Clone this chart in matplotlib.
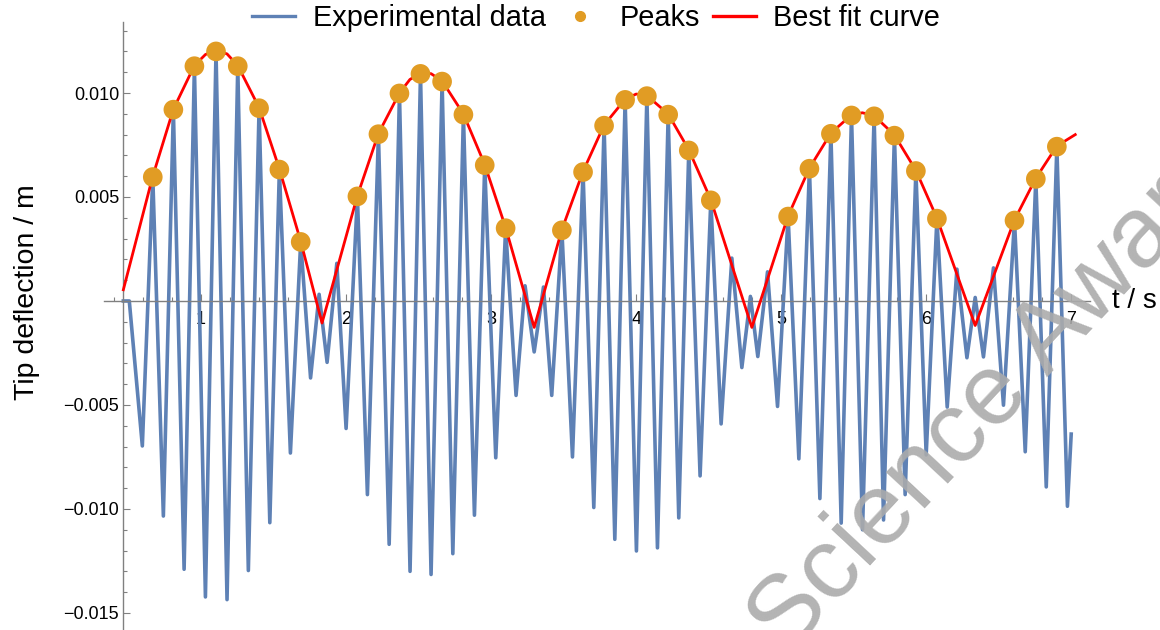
import numpy as np
import matplotlib
matplotlib.use("Agg")
import matplotlib.pyplot as plt
from matplotlib.lines import Line2D
from matplotlib.legend_handler import HandlerLine2D
from matplotlib.ticker import MultipleLocator, FixedLocator, FuncFormatter
from matplotlib import transforms

plt.rcParams['font.family'] = ['Liberation Sans', 'DejaVu Sans']

# peak positions (t in s, deflection in m)
peak_t = [0.667, 0.809, 0.954, 1.103, 1.253, 1.400, 1.540, 1.687,
          2.078, 2.223, 2.368, 2.513, 2.662, 2.809, 2.956, 3.100,
          3.488, 3.634, 3.779, 3.924, 4.074, 4.221, 4.363, 4.515,
          5.048, 5.195, 5.343, 5.485, 5.641, 5.781, 5.929, 6.074,
          6.609, 6.756, 6.901]
peak_y = [0.00596, 0.00920, 0.01129, 0.01200, 0.01129, 0.00927, 0.00632, 0.00284,
          0.00503, 0.00802, 0.00998, 0.01092, 0.01055, 0.00896, 0.00653, 0.00350,
          0.00340, 0.00620, 0.00843, 0.00967, 0.00985, 0.00896, 0.00724, 0.00484,
          0.00406, 0.00636, 0.00804, 0.00892, 0.00888, 0.00795, 0.00625, 0.00396,
          0.00387, 0.00587, 0.00742]

# remaining turning points of the tip signal (troughs and the small humps near the beat nodes)
other_t = [0.464, 0.505, 0.595, 0.740, 0.883, 1.030, 1.179, 1.326, 1.474, 1.616,
           1.755, 1.814, 1.869, 1.936, 2.000, 2.147, 2.297, 2.441, 2.586, 2.736,
           2.885, 3.032, 3.172, 3.234, 3.297, 3.361, 3.418, 3.561, 3.708, 3.853,
           4.002, 4.147, 4.294, 4.441, 4.586, 4.660, 4.729, 4.788, 4.839, 4.906,
           4.975, 5.122, 5.267, 5.414, 5.561, 5.706, 5.855, 6.000, 6.145, 6.212,
           6.281, 6.338, 6.395, 6.464, 6.533, 6.683, 6.828, 6.974, 7.000]
other_y = [0.0, 0.0, -0.00697, -0.01034, -0.01290, -0.01423, -0.01436, -0.01296, -0.01066, -0.00731,
           -0.00370, 0.00032, -0.00295, 0.00181, -0.00613, -0.00931, -0.01170, -0.01300, -0.01315, -0.01215,
           -0.01030, -0.00754, -0.00454, 0.00073, -0.00245, 0.00067, -0.00454, -0.00750, -0.00993, -0.01146,
           -0.01202, -0.01187, -0.01043, -0.00841, -0.00591, 0.00206, -0.00320, 0.00022, -0.00267, 0.00140,
           -0.00507, -0.00759, -0.00950, -0.01068, -0.01100, -0.01053, -0.00931, -0.00740, -0.00510, 0.00153,
           -0.00273, 0.00017, -0.00269, 0.00159, -0.00501, -0.00725, -0.00894, -0.00987, -0.00640]

# fitted envelope through the peaks
fit_t = [0.464, 0.667, 0.809, 0.954, 1.030, 1.103, 1.179, 1.253, 1.400, 1.540, 1.687, 1.834,
         2.078, 2.223, 2.368, 2.440, 2.513, 2.586, 2.662, 2.809, 2.956, 3.100, 3.297,
         3.488, 3.634, 3.779, 3.924, 4.000, 4.074, 4.221, 4.363, 4.515, 4.798,
         5.048, 5.195, 5.343, 5.485, 5.560, 5.641, 5.781, 5.929, 6.074, 6.338,
         6.609, 6.756, 6.901, 7.028]
fit_y = [0.00054, 0.00600, 0.00922, 0.01132, 0.01185, 0.01205, 0.01188, 0.01132, 0.00930, 0.00635, 0.00287, -0.00106,
         0.00506, 0.00805, 0.01000, 0.01065, 0.01095, 0.01093, 0.01058, 0.00899, 0.00656, 0.00353, -0.00127,
         0.00343, 0.00623, 0.00846, 0.00970, 0.00995, 0.00988, 0.00899, 0.00727, 0.00487, -0.00127,
         0.00409, 0.00639, 0.00807, 0.00895, 0.00905, 0.00891, 0.00798, 0.00628, 0.00399, -0.00118,
         0.00390, 0.00590, 0.00745, 0.00800]

BLUE = '#5E81B5'
ORANGE = '#E19C24'
RED = '#FF0000'
AXIS = '#808080'


class ShiftedDot(HandlerLine2D):
    # legend dot sits towards the right of its handle box
    def get_xdata(self, legend, xdescent, ydescent, width, height, fontsize):
        xdata, _ = super().get_xdata(legend, xdescent, ydescent, width, height, fontsize)
        return xdata, np.array([-xdescent + 0.68 * width])


# the measured signal runs through all turning points in time order
sig_t = np.array(peak_t + other_t)
sig_y = np.array(peak_y + other_y)
order = np.argsort(sig_t)
sig_t, sig_y = sig_t[order], sig_y[order]

fig = plt.figure(figsize=(11.6, 6.3), dpi=100)
ax = fig.add_axes([0.0897, 0.0, 0.850, 0.9656])
ax.set_xlim(0.331, 7.13)
ax.set_ylim(-0.01582, 0.01343)

ax.plot(sig_t, sig_y, color=BLUE, lw=2.6, solid_joinstyle='round', zorder=2)
ax.plot(fit_t, fit_y, color=RED, lw=2.0, zorder=3)
ax.scatter(peak_t, peak_y, s=200, color=ORANGE, edgecolors='none', zorder=4)

# axes drawn through the origin like a Mathematica plot
for side in ['top', 'right']:
    ax.spines[side].set_visible(False)
ax.spines['bottom'].set_position(('data', 0))
ax.spines['left'].set_position(('data', 0.464))
for side in ['bottom', 'left']:
    ax.spines[side].set_color(AXIS)
    ax.spines[side].set_linewidth(1.0)

ax.xaxis.set_major_locator(FixedLocator([1, 2, 3, 4, 5, 6, 7]))
ax.xaxis.set_minor_locator(MultipleLocator(0.2))
ax.yaxis.set_major_locator(FixedLocator([-0.015, -0.010, -0.005, 0.005, 0.010]))
ax.yaxis.set_minor_locator(MultipleLocator(0.001))
ax.xaxis.set_major_formatter(FuncFormatter(lambda v, p: f"{v:.0f}"))
ax.yaxis.set_major_formatter(FuncFormatter(lambda v, p: f"{v:.3f}".replace('-', '\u2212')))
ax.tick_params(which='both', direction='in', color=AXIS, width=0.8, labelsize=13)
ax.tick_params(which='major', length=4.8)
ax.tick_params(which='minor', length=3.2)
ax.tick_params(axis='x', pad=7.5)
ax.tick_params(axis='y', pad=3)

ax.annotate('t / s', xy=(1.0, 0), xycoords=transforms.blended_transform_factory(ax.transAxes, ax.transData),
            xytext=(16, 0), textcoords='offset points', ha='left', va='center', fontsize=20)
fig.text(27 / 1160, 1 - 292 / 630, 'Tip deflection / m', rotation=90, ha='center', va='center', fontsize=20.5)

handles = [Line2D([], [], color=BLUE, lw=2.4),
           Line2D([], [], color=ORANGE, marker='o', ls='none', markersize=7),
           Line2D([], [], color=RED, lw=2.4)]
fig.legend(handles, ['Experimental data', 'Peaks', 'Best fit curve'], loc='center',
           bbox_to_anchor=(596 / 1160, 1 - 18 / 630), ncol=3, frameon=False, fontsize=20.8,
           handlelength=1.5, handletextpad=0.6, columnspacing=0.45, borderpad=0, borderaxespad=0,
           handler_map={handles[1]: ShiftedDot(numpoints=1)})

fig.text(1012 / 1160, 1 - 377 / 630, 'Science Awards', rotation=47, rotation_mode='anchor',
         ha='center', va='center', fontsize=73, color='#ababab', alpha=0.9, zorder=10)

fig.savefig('out.png', dpi=100)
